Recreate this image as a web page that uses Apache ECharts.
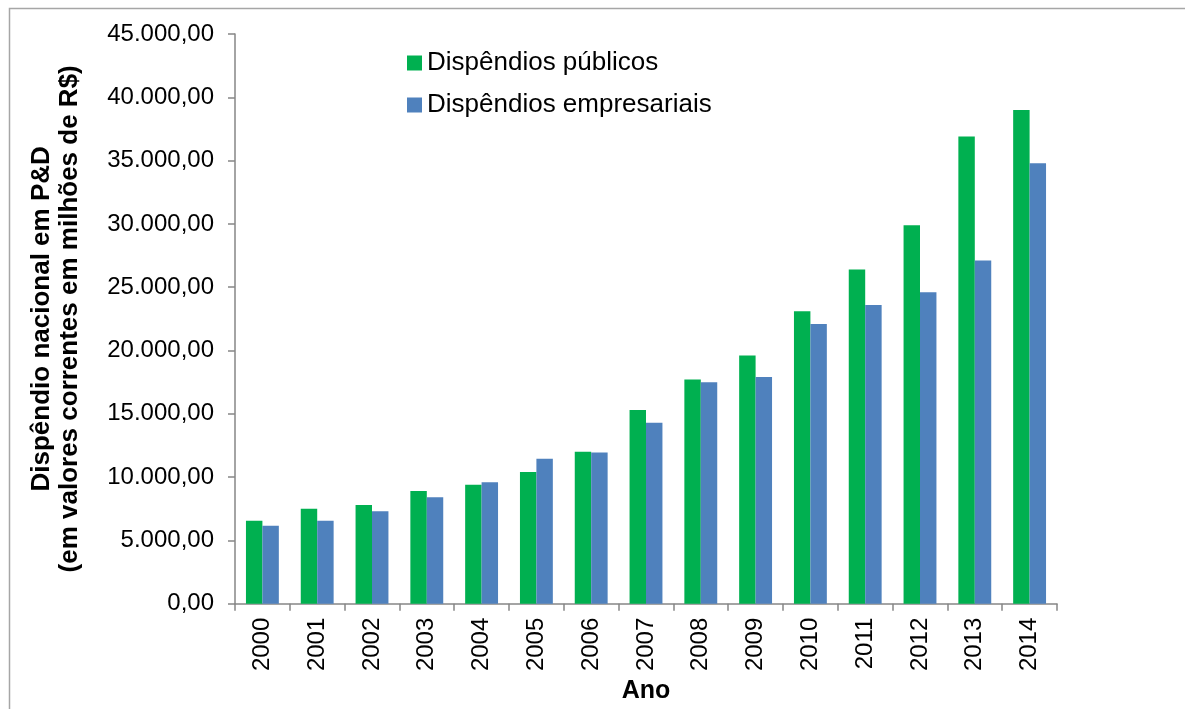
<!DOCTYPE html>
<html>
<head>
<meta charset="utf-8">
<script src="https://cdn.jsdelivr.net/npm/echarts@6/dist/echarts.min.js"></script>
<style>html,body{margin:0;padding:0;background:#fff}#c{width:1185px;height:709px}</style>
</head>
<body>
<div id="c"></div>
<script>
const categories = ['2000','2001','2002','2003','2004','2005','2006','2007','2008','2009','2010','2011','2012','2013','2014'];
const publicos = [6550, 7500, 7800, 8900, 9400, 10400, 12000, 15300, 17700, 19600, 23100, 26400, 29900, 36900, 39000];
const empresariais = [6150, 6550, 7300, 8400, 9600, 11450, 11950, 14300, 17500, 17900, 22100, 23600, 24600, 27100, 34800];
const seriesNames = ['Dispêndios públicos', 'Dispêndios empresariais'];
const yTicks = {min: 0, max: 45000, interval: 5000};

function fmtBR(v) {
  const s = Math.round(v).toString().replace(/\B(?=(\d{3})+(?!\d))/g, '.');
  return s + ',00';
}

const chart = echarts.init(document.getElementById('c'));
const font = 'Liberation Sans, Arial, sans-serif';
chart.setOption({
  animation: false,
  textStyle: {fontFamily: font},
  graphic: [{
    type: 'rect', left: 7, top: 6, shape: {width: 1300, height: 800},
    style: {fill: 'none', stroke: '#a6a6a6', lineWidth: 1.5}, silent: true
  }],
  legend: {
    orient: 'vertical', left: 402, top: 45, itemGap: 16,
    itemWidth: 15, itemHeight: 15, icon: 'rect',
    textStyle: {fontSize: 26, color: '#000', fontFamily: font},
    data: seriesNames
  },
  grid: {left: 235, right: 128, top: 34, bottom: 102},
  xAxis: {
    type: 'category', data: categories,
    axisLine: {lineStyle: {color: '#868686', width: 1.5}},
    axisTick: {show: true, length: 7, alignWithLabel: false, lineStyle: {color: '#868686', width: 1.5}},
    axisLabel: {rotate: 90, fontSize: 24, color: '#000', margin: 14, fontFamily: font},
    name: 'Ano', nameLocation: 'middle', nameGap: 74,
    nameTextStyle: {fontSize: 25, fontWeight: 'bold', color: '#000', fontFamily: font}
  },
  yAxis: {
    type: 'value', min: yTicks.min, max: yTicks.max, interval: yTicks.interval,
    splitLine: {show: false},
    axisLine: {show: true, lineStyle: {color: '#868686', width: 1.5}},
    axisTick: {show: true, length: 7, lineStyle: {color: '#868686', width: 1.5}},
    axisLabel: {fontSize: 24, color: '#000', margin: 21, formatter: fmtBR, fontFamily: font},
    name: 'Dispêndio nacional em P&D\n(em valores correntes em milhões de R$)',
    nameLocation: 'middle', nameGap: 151, nameRotate: 90,
    nameTextStyle: {fontSize: 26, fontWeight: 'bold', color: '#000', lineHeight: 28, fontFamily: font}
  },
  series: [
    {name: seriesNames[0], type: 'bar', data: publicos, barGap: '0%', barCategoryGap: '40%',
     itemStyle: {color: '#00B050'}},
    {name: seriesNames[1], type: 'bar', data: empresariais, barGap: '0%', barCategoryGap: '40%',
     itemStyle: {color: '#4F81BD'}}
  ]
});
</script>
</body>
</html>
